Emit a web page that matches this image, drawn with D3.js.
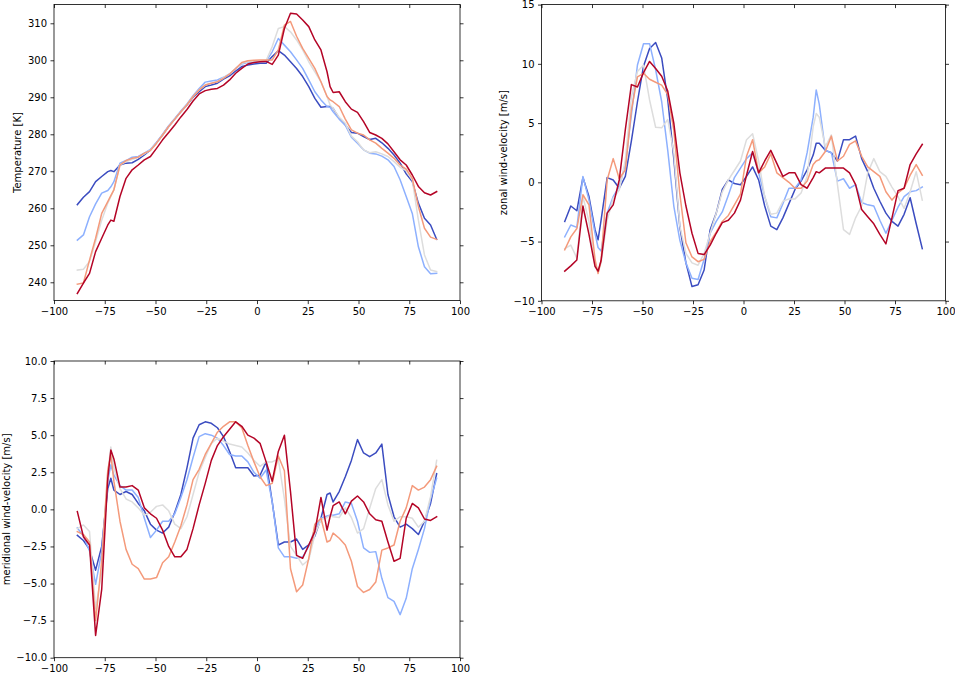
<!DOCTYPE html>
<html><head><meta charset="utf-8">
<script src="https://cdn.jsdelivr.net/npm/d3@7"></script>
<style>
body{margin:0;background:#fff}
svg{display:block}
</style>
</head><body>
<svg id="c" width="955" height="673"></svg>
<script>
// ---------------- data ----------------
const lats = [-88.5,-85.5,-82.5,-79.5,-76.5,-73.5,-72,-70.5,-67.5,-64.5,-61.5,-58.5,-55.5,-52.5,-49.5,-46.5,-43.5,-40.5,-37.5,-34.5,-31.5,
 -28.5,-25.5,-22.5,-19.5,-16.5,-13.5,-10.5,-7.5,-4.5,-1.5,1.5,4.5,7.5,10.5,13.5,16.5,19.5,22.5,25.5,28.5,
 31.5,34.5,36,37.5,40.5,43.5,46.5,49.5,52.5,55.5,58.5,61.5,64.5,67.5,70.5,73.5,76.5,79.5,82.5,85.5,88.5];

const seriesColors = ["#3b4cc0","#8db0fe","#dddddd","#f49a7b","#b40426"];

// Temperature [K]
const tempBlue = [261.0,263.0,264.5,267.2,268.6,269.9,270.2,269.9,271.7,272.2,272.3,273.2,274.4,275.8,277.7,279.8,282.1,284.1,286.1,287.9,290.0,
 291.5,292.9,293.3,293.8,294.9,295.8,297.1,298.3,298.7,299.0,299.2,299.2,301.0,302.6,301.4,299.6,297.8,295.6,292.9,289.7,
 287.3,287.5,287.5,287.0,284.3,282.5,280.5,280.3,279.4,278.6,278.9,277.7,276.2,274.4,272.2,269.3,267.2,261.4,257.3,255.5,251.6];
const tempLightBlue = [251.4,252.8,257.7,261.2,264.1,264.8,265.8,267.2,272.2,272.9,273.8,274.0,274.9,275.9,277.8,280.0,282.3,284.3,286.3,288.2,290.4,
 292.4,294.1,294.4,294.7,295.4,296.3,297.8,299.0,299.4,299.5,299.7,299.7,302.3,305.9,304.1,302.3,300.1,297.8,294.7,291.5,
 289.3,287.5,287.3,286.1,284.1,282.5,279.2,277.6,275.8,274.9,274.7,274.1,273.1,271.3,267.7,263.2,258.6,249.6,244.2,242.3,242.4];
const tempGrey = [243.3,243.5,245.6,251.0,256.8,261.4,263.2,265.0,271.7,272.6,273.2,273.8,274.7,275.8,277.6,279.8,282.1,284.1,286.1,288.0,290.2,
 292.0,293.3,293.8,294.2,295.3,296.3,297.8,299.2,299.6,299.8,299.9,299.9,303.7,308.6,309.1,307.7,305.5,302.8,299.6,296.9,
 294.2,290.2,287.9,287.0,284.6,283.0,279.5,278.0,275.8,275.0,275.3,274.7,274.0,272.6,271.1,270.2,267.7,256.8,247.4,243.3,242.9];
const tempSalmon = [239.5,239.8,246.0,251.9,258.6,261.8,263.4,265.0,271.7,272.9,273.5,273.8,274.9,275.6,277.6,279.8,282.1,284.1,286.1,288.0,290.2,
 292.0,293.3,293.8,294.2,295.1,296.3,297.8,299.4,299.9,300.0,300.1,300.1,300.1,302.8,309.5,310.5,306.5,303.2,300.5,297.8,
 294.2,290.2,289.3,288.8,287.5,284.1,281.2,280.3,279.8,278.5,277.6,276.2,274.9,273.5,271.7,270.6,268.1,260.5,254.6,252.2,251.6];
const tempRed = [237.0,239.8,242.4,248.3,251.9,255.5,256.8,256.5,263.2,268.1,270.4,271.7,273.1,274.0,276.2,278.5,280.5,282.5,284.7,286.7,289.0,
 290.9,291.8,292.2,292.4,293.3,294.7,296.5,297.8,299.0,299.4,299.6,299.7,298.9,301.4,308.6,312.7,312.5,310.9,309.1,305.5,
 302.8,296.9,292.9,291.3,291.5,288.8,286.8,285.9,283.4,280.5,279.8,278.9,277.4,275.3,273.1,271.7,269.0,265.9,264.2,263.6,264.5];

// zonal wind-velocity [m/s]
const zonalBlue = [-3.3,-2.0,-2.4,0.4,-1.2,-4.0,-4.85,-3.2,0.4,0.2,-0.5,0.5,3.5,6.8,9.8,11.3,11.8,10.5,7.0,2.0,-3.8,
 -6.8,-8.8,-8.65,-7.4,-4.0,-2.6,-0.6,0.2,-0.1,-0.2,0.5,1.3,0.2,-2.0,-3.7,-4.0,-3.0,-1.8,-0.6,0.1,
 1.05,2.3,3.3,3.3,2.7,2.5,1.8,3.6,3.6,3.9,2.0,0.9,-0.5,-1.6,-2.6,-3.3,-3.7,-2.7,-1.3,-3.5,-5.6];
const zonalLightBlue = [-4.6,-3.6,-3.8,0.5,-1.5,-4.3,-5.5,-5.8,-2.6,-1.2,-0.35,1.5,5.7,9.9,11.7,11.7,9.5,6.8,2.7,-2.0,-4.9,
 -6.8,-8.1,-8.2,-6.5,-4.3,-3.3,-2.5,-1.1,0.4,1.2,2.0,2.5,0.8,-1.2,-2.9,-3.0,-1.8,-0.5,-0.5,0.2,
 2.5,5.5,7.8,6.6,2.7,2.5,0.1,0.3,-0.5,-0.2,-1.7,-1.9,-2.0,-3.2,-4.3,-3.2,-2.1,-1.2,-0.8,-0.7,-0.4];
const zonalGrey = [-5.6,-5.3,-6.4,-1.2,-3.3,-7.1,-7.6,-6.8,-3.2,-1.35,-0.65,1.9,7.2,9.35,9.9,6.95,4.65,4.6,5.3,2.5,-3.7,
 -6.0,-6.8,-7.0,-6.0,-4.3,-2.6,-0.8,0.2,1.0,1.8,3.6,4.1,1.8,-1.2,-2.7,-2.6,-1.6,-1.4,-1.4,-0.9,
 0.5,4.7,5.8,5.5,3.0,4.0,-0.2,-4.0,-4.4,-3.0,-2.0,0.8,2.0,0.9,0.5,-0.4,-1.2,-2.2,-0.8,0.9,-1.5];
const zonalSalmon = [-5.7,-4.6,-3.9,-1.05,-1.9,-6.5,-7.7,-6.6,0.2,2.0,0.3,1.05,6.1,8.9,9.2,8.7,8.45,8.2,7.4,4.4,-1.0,
 -5.1,-6.3,-6.7,-6.5,-5.0,-4.2,-3.3,-2.8,-1.9,-1.0,2.2,3.6,0.8,1.3,2.4,0.8,0.4,0.0,-0.5,-0.5,
 0.1,1.5,1.8,1.9,2.6,3.9,1.8,2.2,3.2,3.5,2.2,1.3,0.9,0.5,-0.8,-1.5,-0.9,-0.5,0.6,1.5,0.6];
const zonalRed = [-7.5,-7.05,-6.55,-2.0,-4.4,-7.1,-7.5,-6.6,-2.6,-1.9,0.2,4.45,8.25,8.05,9.25,10.2,9.6,8.95,7.7,5.0,0.8,
 -2.0,-4.3,-6.0,-6.1,-5.3,-4.3,-3.4,-3.2,-2.6,-1.5,0.6,2.6,0.8,1.8,2.7,1.6,0.5,0.8,0.8,-0.2,
 -0.5,0.4,0.9,0.8,1.2,1.2,1.2,1.2,0.8,-0.2,-2.3,-2.9,-3.5,-4.4,-5.2,-3.0,-0.7,-0.5,1.5,2.4,3.2];

// meridional wind-velocity [m/s]
const meridBlue = [-1.75,-2.1,-2.7,-4.1,-2.5,1.4,2.1,1.3,1.0,1.2,1.0,0.4,-0.1,-1.0,-1.4,-1.6,-1.2,-0.2,1.0,2.8,4.8,
 5.7,5.9,5.8,5.5,4.9,3.9,2.8,2.8,2.8,2.25,2.3,3.2,0.5,-2.4,-2.2,-2.2,-2.0,-2.7,-2.4,-1.8,
 -0.6,1.0,1.1,0.5,1.2,2.2,3.3,4.7,3.8,3.55,3.8,4.4,1.0,-0.5,-1.2,-1.0,-1.3,-1.7,-0.8,0.4,2.4];
const meridLightBlue = [-1.25,-1.8,-2.8,-5.05,-2.85,1.9,3.0,2.3,1.6,1.3,1.3,0.8,-0.6,-1.9,-1.4,-0.8,-0.8,-0.3,0.8,2.0,3.5,
 4.9,5.1,5.0,4.8,4.3,3.7,3.6,3.6,3.2,2.5,2.1,2.65,0.5,-2.6,-3.2,-3.2,-3.3,-3.2,-2.5,-1.3,
 -0.6,-0.45,-0.4,-0.4,-0.3,0.5,0.4,-0.8,-2.6,-2.9,-2.85,-4.65,-5.95,-6.2,-7.1,-6.0,-4.0,-2.7,-1.3,0.7,2.1];
const meridGrey = [-1.3,-1.05,-1.5,-6.7,-4.2,2.5,4.2,2.8,1.4,0.7,0.5,0.1,-0.4,-0.2,0.2,0.3,-0.1,-1.0,-1.3,-0.5,1.0,
 2.5,3.5,4.45,4.8,4.6,4.4,4.3,4.2,3.8,3.3,2.9,3.2,3.2,3.4,0.7,-2.5,-3.1,-3.75,-3.4,-1.7,
 -0.7,-0.55,-0.4,-0.5,-0.55,0.1,-0.55,-1.6,-1.3,0.07,1.4,2.0,0.3,-0.8,-0.5,-0.5,-0.6,-1.2,-0.8,0.85,3.3];
const meridSalmon = [-1.5,-1.7,-2.2,-7.5,-3.5,2.65,3.7,1.9,-0.8,-2.7,-3.7,-4.0,-4.7,-4.7,-4.6,-3.6,-3.2,-2.2,-1.1,0.3,2.0,
 2.7,3.7,4.45,5.2,5.6,5.9,5.9,5.5,4.3,3.2,2.2,1.6,1.75,3.6,2.6,-4.0,-5.55,-5.1,-3.3,-1.0,
 -0.6,-2.2,-2.1,-1.6,-1.95,-2.4,-3.5,-5.2,-5.6,-5.4,-4.9,-2.75,-2.6,-2.4,-0.8,0.1,1.6,1.3,1.5,2.0,2.9];
const meridRed = [-0.15,-1.85,-2.4,-8.5,-5.4,2.1,4.0,3.4,1.5,1.5,1.6,1.3,0.1,-0.3,-0.6,-1.4,-2.5,-3.2,-3.2,-2.7,-1.3,
 0.3,1.75,3.3,4.3,4.9,5.4,5.9,5.6,5.0,4.8,4.45,3.2,1.9,3.9,5.0,1.2,-3.1,-3.3,-2.4,-1.5,
 0.8,-1.4,-0.5,0.25,0.5,-0.3,0.55,0.9,0.5,-0.3,-0.7,-0.8,-2.2,-3.5,-3.3,-0.6,0.4,0.1,-0.65,-0.75,-0.5];

// ticks
const xTicks = [-100,-75,-50,-25,0,25,50,75,100];
const tempTicks = [240,250,260,270,280,290,300,310];
const zonalTicks = [-10,-5,0,5,10,15];
const meridTicks = [-10,-7.5,-5,-2.5,0,2.5,5,7.5,10];

// ---------------- drawing ----------------
const svg = d3.select("#c");
const minus = s => s.replace(/-/g, "\u2212");

function drawPanel(cfg) {
  const x = d3.scaleLinear().domain([-100, 100]).range([cfg.left, cfg.right]);
  const y = d3.scaleLinear().domain(cfg.ydomain).range([cfg.bottom, cfg.top]);
  const g = svg.append("g");

  const clipId = "clip" + cfg.id;
  svg.append("clipPath").attr("id", clipId).append("rect")
    .attr("x", cfg.left).attr("y", cfg.top)
    .attr("width", cfg.right - cfg.left).attr("height", cfg.bottom - cfg.top);

  const line = d3.line().x((d, i) => x(lats[i])).y(d => y(d)).curve(d3.curveLinear);
  const lines = g.append("g").attr("clip-path", `url(#${clipId})`);
  cfg.series.forEach((s, i) => {
    lines.append("path").datum(s)
      .attr("d", line)
      .attr("fill", "none")
      .attr("stroke", seriesColors[i])
      .attr("stroke-width", 1.5)
      .attr("stroke-linejoin", "round")
      .attr("stroke-linecap", "square");
  });

  const styleAxis = sel => {
    sel.select(".domain").remove();
    sel.selectAll("line").attr("stroke", "#000").attr("stroke-width", 0.8);
    sel.selectAll("text").attr("fill", "#000")
      .style("font-family", "'DejaVu Sans', sans-serif").style("font-size", "10px");
  };

  // bottom
  g.append("g").attr("transform", `translate(0,${cfg.bottom})`)
    .call(d3.axisBottom(x).tickValues(xTicks).tickSize(3.5).tickPadding(3.5)
      .tickFormat(d => minus(String(d))))
    .call(styleAxis);
  // top (inward, no labels)
  g.append("g").attr("transform", `translate(0,${cfg.top})`)
    .call(d3.axisTop(x).tickValues(xTicks).tickSize(-3.5).tickFormat(""))
    .call(styleAxis);
  // left
  g.append("g").attr("transform", `translate(${cfg.left},0)`)
    .call(d3.axisLeft(y).tickValues(cfg.yticks).tickSize(3.5).tickPadding(3.5)
      .tickFormat(cfg.yfmt))
    .call(styleAxis);
  // right (outward, no labels)
  g.append("g").attr("transform", `translate(${cfg.right},0)`)
    .call(d3.axisRight(y).tickValues(cfg.yticks).tickSize(3.5).tickFormat(""))
    .call(styleAxis);

  // frame
  g.append("rect")
    .attr("x", cfg.left).attr("y", cfg.top)
    .attr("width", cfg.right - cfg.left).attr("height", cfg.bottom - cfg.top)
    .attr("fill", "none").attr("stroke", "#000").attr("stroke-width", 0.8);

  // y label
  g.append("text")
    .attr("transform", `translate(${cfg.labelX},${(cfg.top + cfg.bottom) / 2}) rotate(-90)`)
    .attr("text-anchor", "middle")
    .attr("dominant-baseline", "central")
    .style("font-family", "'DejaVu Sans', sans-serif").style("font-size", "10px")
    .attr("fill", "#000")
    .text(cfg.ylabel);
}

drawPanel({
  id: 1, left: 54, right: 460, top: 4.5, bottom: 300.6,
  ydomain: [235.05, 315.08], yticks: tempTicks,
  yfmt: d => String(d), ylabel: "Temperature [K]", labelX: 17.5,
  series: [tempBlue, tempLightBlue, tempGrey, tempSalmon, tempRed]
});
drawPanel({
  id: 2, left: 541.5, right: 945.5, top: 4.6, bottom: 300.8,
  ydomain: [-10, 15], yticks: zonalTicks,
  yfmt: d => minus(String(d)), ylabel: "zonal wind-velocity [m/s]", labelX: 503.5,
  series: [zonalBlue, zonalLightBlue, zonalGrey, zonalSalmon, zonalRed]
});
drawPanel({
  id: 3, left: 54, right: 460, top: 361, bottom: 657.7,
  ydomain: [-10, 10], yticks: meridTicks,
  yfmt: d => minus(d3.format(".1f")(d)), ylabel: "meridional wind-velocity [m/s]", labelX: 6.5,
  series: [meridBlue, meridLightBlue, meridGrey, meridSalmon, meridRed]
});
</script>
</body></html>
